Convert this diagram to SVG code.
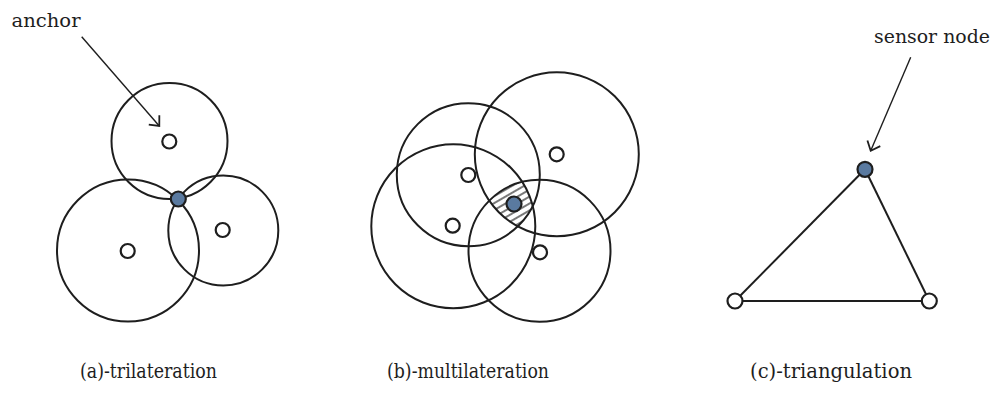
<svg xmlns="http://www.w3.org/2000/svg" width="1002" height="398" viewBox="0 0 1002 398">
<style>
.range{fill:none;stroke:#1e1e1e;stroke-width:2}
.anchor{fill:#fff;stroke:#1e1e1e;stroke-width:2.2}
.sensor{fill:#5a7aa0;stroke:#1e1e1e;stroke-width:2.2}
.edge{stroke:#1e1e1e;stroke-width:2;fill:none}
.ptr{stroke:#1e1e1e;stroke-width:1.4;fill:none;marker-end:url(#chev)}
.lbl{font-family:'DejaVu Serif','Liberation Serif',serif;font-size:19px;fill:#1e1e1e}
.cap{font-family:'DejaVu Serif','Liberation Serif',serif;font-size:19.5px;fill:#1e1e1e}
</style>
<defs>
<marker id="chev" markerUnits="userSpaceOnUse" markerWidth="14" markerHeight="18" viewBox="0 0 14 18" refX="10" refY="9" orient="auto">
<path d="M2,2 L10,9 L2,16" fill="none" stroke="#1e1e1e" stroke-width="1.8"/>
</marker>
<pattern id="hatch" patternUnits="userSpaceOnUse" width="6" height="6" patternTransform="rotate(-30)">
<line x1="0" y1="3" x2="6" y2="3" stroke="#1e1e1e" stroke-width="1.2"/>
</pattern>
<clipPath id="cA"><circle cx="468.3" cy="174.7" r="71.5"/></clipPath>
<clipPath id="cB"><circle cx="556.8" cy="154.3" r="82"/></clipPath>
<clipPath id="cC"><circle cx="453.3" cy="226.3" r="82"/></clipPath>
<clipPath id="cD"><circle cx="539.5" cy="250.8" r="71"/></clipPath>
</defs>

<g id="trilateration">
<circle class="range" cx="169.5" cy="141" r="58"/>
<circle class="range" cx="128" cy="250.5" r="71"/>
<circle class="range" cx="223.3" cy="230.5" r="55"/>
</g>
<g id="a-anchor1"><circle class="anchor" cx="169.3" cy="141.5" r="7"/></g>
<g id="a-anchor2"><circle class="anchor" cx="127.7" cy="251" r="7"/></g>
<g id="a-anchor3"><circle class="anchor" cx="222.7" cy="230" r="7"/></g>
<g id="a-sensor"><circle class="sensor" cx="178.3" cy="199" r="7.5"/></g>
<g id="anchor-label"><text class="lbl" x="11.5" y="27" textLength="69" lengthAdjust="spacingAndGlyphs">anchor</text></g>

<g id="multilateration">
<g clip-path="url(#cA)"><g clip-path="url(#cB)"><g clip-path="url(#cC)"><g clip-path="url(#cD)">
<rect x="470" y="160" width="90" height="90" fill="url(#hatch)"/>
</g></g></g></g>
<circle class="range" cx="468.3" cy="174.7" r="71.5"/>
<circle class="range" cx="556.8" cy="154.3" r="82"/>
<circle class="range" cx="453.3" cy="226.3" r="82"/>
<circle class="range" cx="539.5" cy="250.8" r="71"/>
</g>
<g id="b-anchor1"><circle class="anchor" cx="468.3" cy="175" r="7"/></g>
<g id="b-anchor2"><circle class="anchor" cx="556.7" cy="154.3" r="7"/></g>
<g id="b-anchor3"><circle class="anchor" cx="452.7" cy="225.7" r="7"/></g>
<g id="b-anchor4"><circle class="anchor" cx="540" cy="252.3" r="7"/></g>
<g id="b-sensor"><circle class="sensor" cx="514" cy="204" r="7.5"/></g>

<g id="connectors">
<line class="ptr" x1="81.7" y1="36.7" x2="159.3" y2="126"/>
<line class="ptr" x1="910.7" y1="57.3" x2="870.7" y2="150.7"/>
<line class="edge" x1="865" y1="169.3" x2="735" y2="301"/>
<line class="edge" x1="865" y1="169.3" x2="929.3" y2="301"/>
<line class="edge" x1="735" y1="301" x2="929.3" y2="301"/>
</g>

<g id="c-sensor"><circle class="sensor" cx="865" cy="169.3" r="7.5"/></g>
<g id="c-anchor1"><circle class="anchor" cx="735" cy="301" r="7.5"/></g>
<g id="c-anchor2"><circle class="anchor" cx="929.3" cy="301" r="7.5"/></g>
<g id="sensor-label"><text class="lbl" x="874" y="43" textLength="116" lengthAdjust="spacingAndGlyphs">sensor node</text></g>

<g id="captions">
<text class="cap" x="80" y="378" textLength="137" lengthAdjust="spacingAndGlyphs">(a)-trilateration</text>
<text class="cap" x="387" y="378" textLength="162" lengthAdjust="spacingAndGlyphs">(b)-multilateration</text>
<text class="cap" x="750" y="378" textLength="162" lengthAdjust="spacingAndGlyphs">(c)-triangulation</text>
</g>
</svg>
